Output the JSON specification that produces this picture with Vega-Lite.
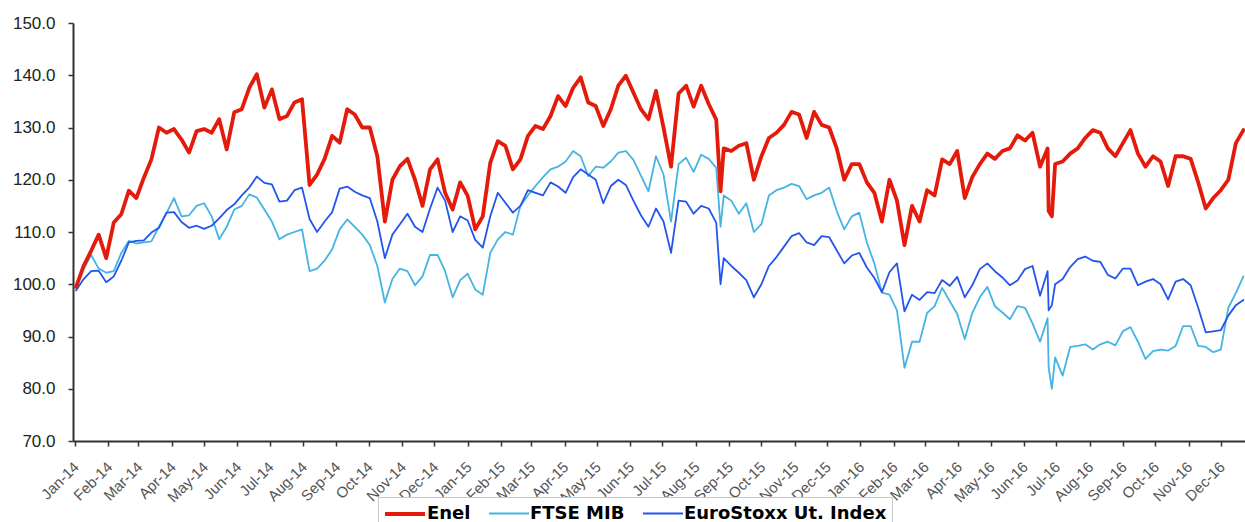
{
  "$schema": "https://vega.github.io/schema/vega-lite/v6.json",
  "autosize": {"type": "none"},
  "padding": {"left": 73, "top": 23, "right": 0, "bottom": 81},
  "width": 1172,
  "height": 418,
  "background": "white",
  "config": {"view": {"stroke": null}},
  "data": {"values": [
    {"d":"2014-01-02","E":99.5,"F":99.3,"S":98.8},
    {"d":"2014-01-09","E":103.5,"F":102.9,"S":101},
    {"d":"2014-01-16","E":106.4,"F":105.6,"S":102.5},
    {"d":"2014-01-23","E":109.5,"F":103,"S":102.6},
    {"d":"2014-01-30","E":105,"F":102.2,"S":100.4},
    {"d":"2014-02-06","E":111.8,"F":102.5,"S":101.5},
    {"d":"2014-02-13","E":113.4,"F":106,"S":104.5},
    {"d":"2014-02-20","E":117.9,"F":108.3,"S":108},
    {"d":"2014-02-27","E":116.5,"F":107.8,"S":108.3},
    {"d":"2014-03-06","E":120.4,"F":108,"S":108.4},
    {"d":"2014-03-13","E":123.9,"F":108.2,"S":109.9},
    {"d":"2014-03-20","E":130,"F":111,"S":110.8},
    {"d":"2014-03-27","E":129,"F":113.6,"S":113.7},
    {"d":"2014-04-03","E":129.7,"F":116.5,"S":113.8},
    {"d":"2014-04-10","E":127.7,"F":113,"S":111.9},
    {"d":"2014-04-17","E":125.2,"F":113.2,"S":110.8},
    {"d":"2014-04-24","E":129.3,"F":115,"S":111.2},
    {"d":"2014-05-01","E":129.7,"F":115.5,"S":110.6},
    {"d":"2014-05-08","E":129,"F":113,"S":111.2},
    {"d":"2014-05-15","E":131.6,"F":108.6,"S":112.6},
    {"d":"2014-05-22","E":125.8,"F":111,"S":114.2},
    {"d":"2014-05-29","E":132.9,"F":114.3,"S":115.3},
    {"d":"2014-06-05","E":133.5,"F":115,"S":117},
    {"d":"2014-06-12","E":137.6,"F":117.2,"S":118.5},
    {"d":"2014-06-19","E":140.2,"F":116.6,"S":120.6},
    {"d":"2014-06-26","E":133.8,"F":114.3,"S":119.4},
    {"d":"2014-07-03","E":137.3,"F":112,"S":119.1},
    {"d":"2014-07-10","E":131.6,"F":108.6,"S":115.8},
    {"d":"2014-07-17","E":132.2,"F":109.5,"S":116},
    {"d":"2014-07-24","E":134.8,"F":110,"S":118},
    {"d":"2014-07-31","E":135.4,"F":110.5,"S":118.5},
    {"d":"2014-08-07","E":119,"F":102.5,"S":112.5},
    {"d":"2014-08-14","E":121,"F":103,"S":110},
    {"d":"2014-08-21","E":124,"F":104.5,"S":112},
    {"d":"2014-08-28","E":128.4,"F":106.7,"S":113.8},
    {"d":"2014-09-04","E":127.1,"F":110.5,"S":118.3},
    {"d":"2014-09-11","E":133.5,"F":112.4,"S":118.7},
    {"d":"2014-09-18","E":132.5,"F":111,"S":117.7},
    {"d":"2014-09-25","E":130,"F":109.5,"S":117},
    {"d":"2014-10-02","E":130,"F":107.5,"S":116.5},
    {"d":"2014-10-09","E":124.5,"F":103.5,"S":112},
    {"d":"2014-10-16","E":112,"F":96.5,"S":105},
    {"d":"2014-10-23","E":120,"F":101,"S":109.5},
    {"d":"2014-10-30","E":122.6,"F":103,"S":111.5},
    {"d":"2014-11-06","E":124,"F":102.5,"S":113.5},
    {"d":"2014-11-13","E":120,"F":99.8,"S":111},
    {"d":"2014-11-20","E":115,"F":101.5,"S":110},
    {"d":"2014-11-27","E":122,"F":105.6,"S":114.5},
    {"d":"2014-12-04","E":123.9,"F":105.6,"S":118.5},
    {"d":"2014-12-11","E":117.5,"F":102.5,"S":116},
    {"d":"2014-12-18","E":114.3,"F":97.5,"S":110},
    {"d":"2014-12-25","E":119.5,"F":100.8,"S":113},
    {"d":"2015-01-01","E":116.9,"F":102,"S":112.2},
    {"d":"2015-01-08","E":110.5,"F":99,"S":108.5},
    {"d":"2015-01-15","E":113,"F":98,"S":107},
    {"d":"2015-01-22","E":123.3,"F":106,"S":113},
    {"d":"2015-01-29","E":127.4,"F":108.6,"S":117.5},
    {"d":"2015-02-05","E":126.5,"F":110,"S":115.6},
    {"d":"2015-02-12","E":122,"F":109.5,"S":113.7},
    {"d":"2015-02-19","E":123.9,"F":115,"S":115},
    {"d":"2015-02-26","E":128.4,"F":117,"S":118},
    {"d":"2015-03-05","E":130.3,"F":118.8,"S":117.5},
    {"d":"2015-03-12","E":129.7,"F":120.5,"S":117},
    {"d":"2015-03-19","E":132.2,"F":122,"S":119.5},
    {"d":"2015-03-26","E":136,"F":122.5,"S":118.7},
    {"d":"2015-04-02","E":134.1,"F":123.5,"S":117.5},
    {"d":"2015-04-09","E":137.6,"F":125.5,"S":120.5},
    {"d":"2015-04-16","E":139.6,"F":124.5,"S":122},
    {"d":"2015-04-23","E":134.8,"F":120.7,"S":121},
    {"d":"2015-04-30","E":134.1,"F":122.5,"S":120},
    {"d":"2015-05-07","E":130.3,"F":122.3,"S":115.5},
    {"d":"2015-05-14","E":133.5,"F":123.5,"S":118.8},
    {"d":"2015-05-21","E":138,"F":125.2,"S":120},
    {"d":"2015-05-28","E":139.9,"F":125.5,"S":119},
    {"d":"2015-06-04","E":136.7,"F":123.8,"S":116},
    {"d":"2015-06-11","E":133.5,"F":120.8,"S":113.2},
    {"d":"2015-06-18","E":131.6,"F":117.8,"S":111},
    {"d":"2015-06-25","E":137,"F":124.5,"S":114.5},
    {"d":"2015-07-02","E":130,"F":121,"S":112},
    {"d":"2015-07-09","E":122.5,"F":112,"S":106},
    {"d":"2015-07-16","E":136.5,"F":123,"S":116},
    {"d":"2015-07-23","E":138,"F":124.2,"S":115.8},
    {"d":"2015-07-30","E":134,"F":121.5,"S":113.5},
    {"d":"2015-08-06","E":138,"F":124.8,"S":115},
    {"d":"2015-08-13","E":134.5,"F":124,"S":114.5},
    {"d":"2015-08-20","E":131.5,"F":122.3,"S":111.8},
    {"d":"2015-08-24","E":117.8,"F":111,"S":100},
    {"d":"2015-08-27","E":126,"F":117,"S":105},
    {"d":"2015-09-03","E":125.5,"F":116,"S":103.5},
    {"d":"2015-09-10","E":126.5,"F":113.5,"S":102.2},
    {"d":"2015-09-17","E":127,"F":115.5,"S":100.8},
    {"d":"2015-09-24","E":120,"F":110,"S":97.5},
    {"d":"2015-10-01","E":124.5,"F":111.5,"S":100},
    {"d":"2015-10-08","E":128,"F":117,"S":103.5},
    {"d":"2015-10-15","E":129,"F":118,"S":105.2},
    {"d":"2015-10-22","E":130.5,"F":118.5,"S":107.2},
    {"d":"2015-10-29","E":133,"F":119.2,"S":109.2},
    {"d":"2015-11-05","E":132.5,"F":118.8,"S":109.8},
    {"d":"2015-11-12","E":128,"F":116.3,"S":108},
    {"d":"2015-11-19","E":133,"F":117,"S":107.5},
    {"d":"2015-11-26","E":130.5,"F":117.5,"S":109.2},
    {"d":"2015-12-03","E":130,"F":118.5,"S":109},
    {"d":"2015-12-10","E":126,"F":114,"S":106.5},
    {"d":"2015-12-17","E":120,"F":110.5,"S":104},
    {"d":"2015-12-24","E":123,"F":113,"S":105.5},
    {"d":"2015-12-31","E":123,"F":113.7,"S":106},
    {"d":"2016-01-07","E":119.5,"F":108,"S":103.2},
    {"d":"2016-01-14","E":117.5,"F":104,"S":101.2},
    {"d":"2016-01-21","E":112,"F":98.4,"S":98.5},
    {"d":"2016-01-28","E":120,"F":98,"S":102.3},
    {"d":"2016-02-04","E":116,"F":95,"S":104},
    {"d":"2016-02-11","E":107.5,"F":84,"S":94.8},
    {"d":"2016-02-18","E":115,"F":89,"S":98},
    {"d":"2016-02-25","E":112,"F":89,"S":97},
    {"d":"2016-03-03","E":118,"F":94.5,"S":98.5},
    {"d":"2016-03-10","E":117,"F":95.8,"S":98.3},
    {"d":"2016-03-17","E":123.9,"F":99.3,"S":100.8},
    {"d":"2016-03-24","E":123,"F":96.8,"S":99.7},
    {"d":"2016-03-31","E":125.5,"F":94.3,"S":101.4},
    {"d":"2016-04-07","E":116.5,"F":89.5,"S":97.5},
    {"d":"2016-04-14","E":120.5,"F":94.5,"S":99.8},
    {"d":"2016-04-21","E":123,"F":97.5,"S":102.9},
    {"d":"2016-04-28","E":125,"F":99.5,"S":104},
    {"d":"2016-05-05","E":124,"F":95.8,"S":102.5},
    {"d":"2016-05-12","E":125.5,"F":94.6,"S":101.3},
    {"d":"2016-05-19","E":126,"F":93.3,"S":99.8},
    {"d":"2016-05-26","E":128.5,"F":95.8,"S":100.7},
    {"d":"2016-06-02","E":127.5,"F":95.5,"S":102.9},
    {"d":"2016-06-09","E":129,"F":92.5,"S":103.5},
    {"d":"2016-06-16","E":122.5,"F":89,"S":97.8},
    {"d":"2016-06-23","E":126,"F":93.5,"S":102.5},
    {"d":"2016-06-24","E":114,"F":84,"S":95},
    {"d":"2016-06-27","E":113,"F":80,"S":96},
    {"d":"2016-06-30","E":123,"F":86,"S":100},
    {"d":"2016-07-07","E":123.5,"F":82.5,"S":101},
    {"d":"2016-07-14","E":125,"F":88,"S":103.3},
    {"d":"2016-07-21","E":126,"F":88.2,"S":104.8},
    {"d":"2016-07-28","E":128,"F":88.5,"S":105.3},
    {"d":"2016-08-04","E":129.5,"F":87.5,"S":104.5},
    {"d":"2016-08-11","E":129,"F":88.5,"S":104.3},
    {"d":"2016-08-18","E":126,"F":89,"S":101.8},
    {"d":"2016-08-25","E":124.5,"F":88.3,"S":101.1},
    {"d":"2016-09-01","E":127,"F":91,"S":103},
    {"d":"2016-09-08","E":129.5,"F":91.8,"S":103},
    {"d":"2016-09-15","E":125,"F":89,"S":99.8},
    {"d":"2016-09-22","E":122.5,"F":85.7,"S":100.5},
    {"d":"2016-09-29","E":124.5,"F":87.2,"S":101},
    {"d":"2016-10-06","E":123.5,"F":87.5,"S":100},
    {"d":"2016-10-13","E":118.8,"F":87.3,"S":97.1},
    {"d":"2016-10-20","E":124.5,"F":88.2,"S":100.5},
    {"d":"2016-10-27","E":124.5,"F":92,"S":101},
    {"d":"2016-11-03","E":124,"F":92,"S":99.8},
    {"d":"2016-11-10","E":119.5,"F":88.2,"S":95.5},
    {"d":"2016-11-17","E":114.5,"F":88,"S":90.8},
    {"d":"2016-11-24","E":116.5,"F":87,"S":91},
    {"d":"2016-12-01","E":118,"F":87.5,"S":91.2},
    {"d":"2016-12-08","E":120,"F":95.5,"S":94},
    {"d":"2016-12-15","E":127,"F":98.3,"S":96},
    {"d":"2016-12-22","E":129.5,"F":101.5,"S":97}
  ]},
  "transform": [{"fold": ["F", "S", "E"], "as": ["k", "v"]}],
  "mark": {"type": "line", "strokeJoin": "round", "strokeCap": "round"},
  "encoding": {
    "x": {
      "field": "d", "type": "temporal",
      "scale": {"type": "utc", "domain": [{"year": 2013, "month": 12, "date": 30, "hours": 3, "utc": true}, {"year": 2016, "month": 12, "date": 23, "hours": 12, "utc": true}]},
      "axis": {
        "title": null, "format": "%b-%y", "tickCount": {"interval": "month", "step": 1},
        "labelAngle": -45, "labelOverlap": false, "labelBound": false, "labelFlush": false,
        "labelFont": "Liberation Sans", "labelFontSize": 15, "labelColor": "#555",
        "labelPadding": 13, "labelOffset": -4, "tickSize": 5, "tickColor": "#333", "tickWidth": 1.5,
        "domainColor": "#333", "domainWidth": 2, "grid": false
      }
    },
    "y": {
      "field": "v", "type": "quantitative",
      "scale": {"domain": [70, 150], "nice": false, "zero": false},
      "axis": {
        "title": null, "values": [70, 80, 90, 100, 110, 120, 130, 140, 150], "format": ".1f",
        "labelFont": "Liberation Sans", "labelFontSize": 17, "labelColor": "#222",
        "labelPadding": 13, "tickSize": 5, "tickColor": "#333", "tickWidth": 1.5,
        "domainColor": "#333", "domainWidth": 2, "grid": false
      }
    },
    "color": {
      "field": "k", "type": "nominal",
      "scale": {"domain": ["E", "F", "S"], "range": ["#e41a0a", "#45b4e2", "#2255ee"]},
      "legend": {
        "title": null, "orient": "none", "legendX": 305, "legendY": 474, "direction": "horizontal",
        "labelExpr": "datum.label === 'E' ? 'Enel' : datum.label === 'F' ? 'FTSE MIB' : 'EuroStoxx Ut. Index'",
        "symbolType": "M-1,0H3", "symbolSize": 400, "labelFont": "DejaVu Sans", "labelFontWeight": "bold",
        "labelFontSize": 18, "labelColor": "black", "labelOffset": 20, "labelLimit": 400, "columnPadding": 14, "padding": 5,
        "strokeColor": "#c8c8c8", "fillColor": "white"
      }
    },
    "strokeWidth": {
      "field": "k", "type": "nominal",
      "scale": {"type": "ordinal", "domain": ["E", "F", "S"], "range": [3.8, 1.8, 1.8]},
      "legend": null
    }
  }
}
